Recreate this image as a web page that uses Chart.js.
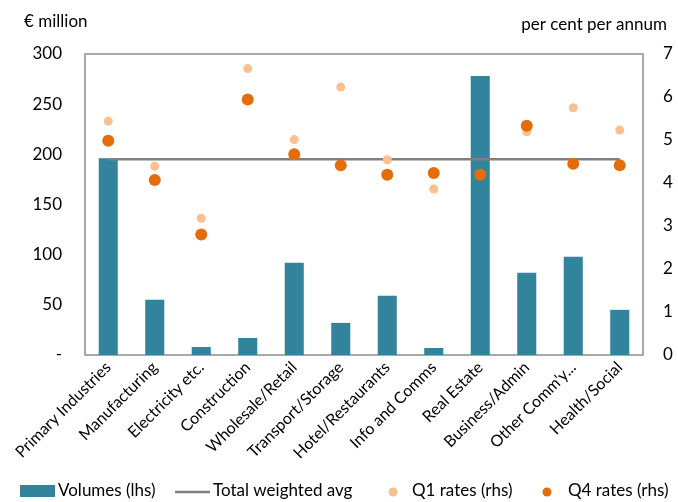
<!DOCTYPE html>
<html>
<head>
<meta charset="utf-8">
<script src="https://cdn.jsdelivr.net/npm/chart.js@4.4.1/dist/chart.umd.min.js"></script>
<style>
  html, body { margin: 0; padding: 0; background: #ffffff; }
</style>
</head>
<body>
<canvas id="sectorChart" width="678" height="502"></canvas>
<script>
// Data
const sectors = [
  "Primary Industries", "Manufacturing", "Electricity etc.", "Construction",
  "Wholesale/Retail", "Transport/Storage", "Hotel/Restaurants", "Info and Comms",
  "Real Estate", "Business/Admin", "Other Comm'y...", "Health/Social"
];
const volumes = [196, 55, 8, 17, 92, 32, 59, 7, 278, 82, 98, 45];
const totalAvg = [4.55, 4.55, 4.55, 4.55, 4.55, 4.55, 4.55, 4.55, 4.55, 4.55, 4.55, 4.55];
const q1Rates = [5.44, 4.39, 3.18, 6.66, 5.01, 6.23, 4.54, 3.86, 4.22, 5.19, 5.75, 5.23];
const q4Rates = [4.98, 4.07, 2.80, 5.94, 4.67, 4.41, 4.19, 4.23, 4.19, 5.33, 4.45, 4.41];
const leftAxisTitle = "€ million";
const rightAxisTitle = "per cent per annum";

// Colours
const barColor = "#31849B";
const lineColor = "#808080";
const q1Color = "#FAC090";
const q4Color = "#E46C0A";
const borderGrey = "#8C8C8C";

Chart.defaults.font.family = "Lato, 'Open Sans', sans-serif";
Chart.defaults.color = "#000000";

// Box round the plot area, axis titles and the legend row
const decorPlugin = {
  id: "decor",
  beforeDatasetsDraw(chart) {
    const ctx = chart.ctx;
    const a = chart.chartArea;
    ctx.save();
    ctx.strokeStyle = borderGrey;
    ctx.lineWidth = 1.5;
    ctx.strokeRect(a.left, a.top, a.right - a.left, a.bottom - a.top);
    ctx.restore();
  },
  afterDraw(chart) {
    const ctx = chart.ctx;
    ctx.save();
    ctx.font = "17px Lato";
    ctx.fillStyle = "#000";
    ctx.textBaseline = "middle";
    ctx.textAlign = "left";
    ctx.fillText(leftAxisTitle, 24, 22);
    ctx.textAlign = "right";
    ctx.fillText(rightAxisTitle, 667, 25);

    // legend
    const y = 491;
    ctx.textAlign = "left";
    ctx.fillStyle = barColor;
    ctx.fillRect(20, 485, 35, 12);
    ctx.fillStyle = "#000";
    ctx.fillText("Volumes (lhs)", 58, y);

    ctx.strokeStyle = lineColor;
    ctx.lineWidth = 2.5;
    ctx.beginPath();
    ctx.moveTo(175, y + 1);
    ctx.lineTo(210, y + 1);
    ctx.stroke();
    ctx.fillText("Total weighted avg", 213, y);

    ctx.fillStyle = q1Color;
    ctx.beginPath();
    ctx.arc(393, y + 1, 4.5, 0, Math.PI * 2);
    ctx.fill();
    ctx.fillStyle = "#000";
    ctx.fillText("Q1 rates (rhs)", 412, y);

    ctx.fillStyle = q4Color;
    ctx.beginPath();
    ctx.arc(547, y + 1, 4.5, 0, Math.PI * 2);
    ctx.fill();
    ctx.fillStyle = "#000";
    ctx.fillText("Q4 rates (rhs)", 568, y);
    ctx.restore();
  }
};

const sectorChart = new Chart(document.getElementById("sectorChart"), {
  type: "bar",
  data: {
    labels: sectors,
    datasets: [
      {
        type: "line",
        label: "Q4 rates (rhs)",
        data: q4Rates,
        yAxisID: "y1",
        showLine: false,
        pointRadius: 6,
        pointBackgroundColor: q4Color,
        pointBorderWidth: 0,
        order: 1
      },
      {
        type: "line",
        label: "Q1 rates (rhs)",
        data: q1Rates,
        yAxisID: "y1",
        showLine: false,
        pointRadius: 4.5,
        pointBackgroundColor: q1Color,
        pointBorderWidth: 0,
        order: 2
      },
      {
        type: "line",
        label: "Total weighted avg",
        data: totalAvg,
        yAxisID: "y1",
        borderColor: lineColor,
        borderWidth: 2.5,
        pointRadius: 0,
        order: 3
      },
      {
        label: "Volumes (lhs)",
        data: volumes,
        yAxisID: "y",
        backgroundColor: barColor,
        categoryPercentage: 1,
        barPercentage: 0.41,
        order: 4
      }
    ]
  },
  options: {
    responsive: false,
    animation: false,
    layout: {
      padding: { top: 54, left: 0, right: 0, bottom: 0 }
    },
    plugins: {
      legend: { display: false },
      tooltip: { enabled: false }
    },
    scales: {
      x: {
        grid: { display: false, drawTicks: false },
        border: { display: false },
        ticks: {
          font: { size: 16 },
          maxRotation: 45,
          minRotation: 45,
          padding: 3,
          autoSkip: false
        },
        afterFit: function (scale) {
          scale.height = 147;
        }
      },
      y: {
        position: "left",
        min: 0,
        max: 300,
        grid: { display: false, drawTicks: false },
        border: { display: false },
        ticks: {
          stepSize: 50,
          padding: 23,
          font: { size: 17 },
          callback: function (value) {
            return value === 0 ? "-" : value;
          }
        },
        afterFit: function (scale) {
          scale.width = 85;
        }
      },
      y1: {
        position: "right",
        min: 0,
        max: 7,
        grid: { display: false, drawTicks: false },
        border: { display: false },
        ticks: {
          stepSize: 1,
          padding: 20,
          font: { size: 17 }
        },
        afterFit: function (scale) {
          scale.width = 35;
        }
      }
    }
  },
  plugins: [decorPlugin]
});
</script>
</body>
</html>
